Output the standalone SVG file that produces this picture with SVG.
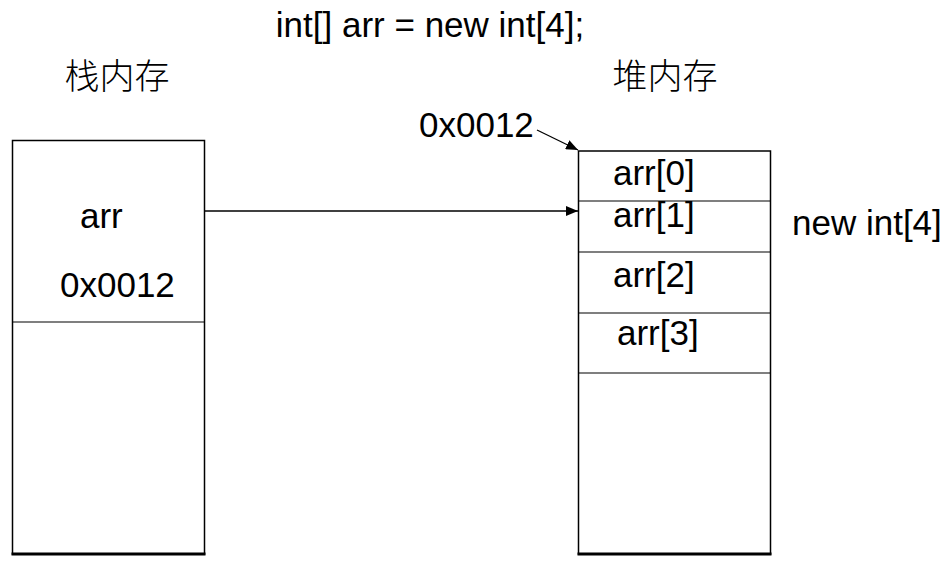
<svg xmlns="http://www.w3.org/2000/svg" width="951" height="566" viewBox="0 0 951 566">
<style>
.t{font-family:"Liberation Sans",Arial,sans-serif;font-size:35px;fill:#000}
.c{font-family:"Noto Sans CJK SC","Noto Sans CJK JP",sans-serif;font-size:35px;font-weight:300;fill:#000}
.box{fill:#fff;stroke:#000;stroke-width:1.5}
.div{stroke:#000;stroke-width:1.2}
.bot{stroke:#000;stroke-width:3}
.ln{stroke:#000;stroke-width:1.3;fill:none}
</style>
<defs>
<marker id="ah" viewBox="0 0 12 10" refX="12" refY="5" markerWidth="12" markerHeight="10" markerUnits="userSpaceOnUse" orient="auto">
<path d="M0,0 L12,5 L0,10 Z" fill="#000"/>
</marker>
</defs>
<rect width="951" height="566" fill="#fff"/>
<text class="t" x="430" y="37" text-anchor="middle">int[] arr = new int[4];</text>
<g id="stack">
<text class="c" x="117" y="89" text-anchor="middle">栈内存</text>
<rect class="box" x="12.5" y="140.5" width="192" height="413.5"/>
<line class="div" x1="12.5" y1="322" x2="204.5" y2="322"/>
<line class="bot" x1="11.5" y1="554" x2="205.5" y2="554"/>
<text class="t" x="80" y="228">arr</text>
<text class="t" x="60" y="297">0x0012</text>
</g>
<g id="heap">
<text class="c" x="665" y="89" text-anchor="middle">堆内存</text>
<rect class="box" x="578.5" y="151" width="192" height="403"/>
<line class="div" x1="578.5" y1="201" x2="770.5" y2="201"/>
<line class="div" x1="578.5" y1="252" x2="770.5" y2="252"/>
<line class="div" x1="578.5" y1="313" x2="770.5" y2="313"/>
<line class="div" x1="578.5" y1="373" x2="770.5" y2="373"/>
<line class="bot" x1="577.5" y1="554" x2="771.5" y2="554"/>
<text class="t" x="613" y="185">arr[0]</text>
<text class="t" x="613" y="227">arr[1]</text>
<text class="t" x="613" y="287">arr[2]</text>
<text class="t" x="617" y="345">arr[3]</text>
<text class="t" x="419" y="137">0x0012</text>
<text class="t" x="792" y="235">new int[4]</text>
</g>
<g id="connectors">
<line class="ln" x1="537" y1="130" x2="578" y2="150" marker-end="url(#ah)"/>
<line class="ln" x1="205" y1="211" x2="578" y2="211" marker-end="url(#ah)"/>
</g>
</svg>
